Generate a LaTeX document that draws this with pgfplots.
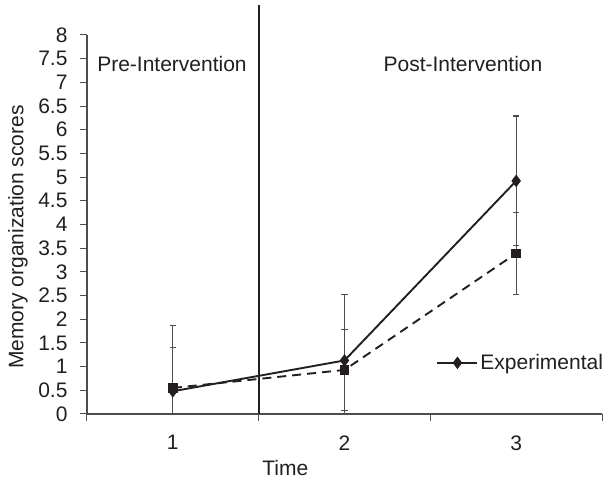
\documentclass[border=0pt]{standalone}
\usepackage{pgfplots}
\pgfplotsset{compat=1.18}
\usepackage{fontspec}
\setmainfont{Liberation Sans}
\definecolor{ln}{HTML}{231F20}
\definecolor{eb}{HTML}{4D4D4D}
\begin{document}
\begin{tikzpicture}
\begin{axis}[
  scale only axis, width=515pt, height=379pt,
  xmin=0.5, xmax=3.5, ymin=0, ymax=8,
  axis lines=left, axis line style={-, draw=eb, line width=1.2pt},
  clip=false,
  xtick={1,2,3}, minor xtick={0.5,1.5,2.5,3.5},
  major x tick style={draw=none},
  minor x tick style={draw=eb, line width=1pt},
  ytick={0,0.5,1,1.5,2,2.5,3,3.5,4,4.5,5,5.5,6,6.5,7,7.5,8},
  y tick style={draw=eb, line width=1pt},
  tick align=outside, major tick length=7pt, minor tick length=7pt,
  font=\fontsize{21}{25}\selectfont,
  /pgf/number format/assume math mode=true,
  /pgf/number format/.cd, fixed, precision=1, /pgfplots/.cd,
  yticklabel style={anchor=east, xshift=-9pt, text=ln},
  xticklabel style={text=ln, yshift=-11pt},
  xlabel={Time}, ylabel={Memory organization scores},
  xlabel style={at={(axis description cs:0.385,-0.143)}, anchor=center, text=ln},
  ylabel style={at={(axis description cs:-0.134,0.467)}, anchor=center, text=ln},
  legend style={at={(axis cs:2.535,1.08)}, anchor=west, draw=none, fill=none, inner sep=0pt,
    font=\fontsize{21}{25}\selectfont, text=ln},
  legend image code/.code={\draw[mark repeat=2,mark phase=2,#1] plot coordinates {(0pt,0pt) (20pt,0pt) (40pt,0pt)};},
  error bars/error bar style={draw=eb, line width=1.1pt, solid},
  error bars/error mark options={draw=eb, line width=1.1pt, rotate=90, mark size=3.2pt, solid},
]
% vertical divider
\draw[ln, line width=1.8pt] (axis cs:1.5,0) -- (axis cs:1.5,8.63);
\node[text=ln] at (axis cs:0.995,7.38) {Pre-Intervention};
\node[text=ln] at (axis cs:2.69,7.38) {Post-Intervention};

% Experimental (diamond, solid)
\addplot[ln, line width=1.9pt, mark=diamond*, mark size=5.5pt, mark options={solid, fill=ln, line width=1pt},
  error bars/.cd, y dir=both, y explicit]
  table[x=x, y=y, y error plus=ep, y error minus=em] {
x y ep em
1 0.48 1.38 0.48
2 1.13 1.39 1.13
3 4.92 1.37 1.37
};
\addlegendentry{Experimental}

% Control (square, dashed)
\addplot[ln, line width=1.9pt, dash pattern=on 9pt off 6pt, mark=square*, mark size=4.3pt, mark options={solid, fill=ln, line width=1pt},
  error bars/.cd, y dir=both, y explicit]
  table[x=x, y=y, y error plus=ep, y error minus=em] {
x y ep em
1 0.55 0.86 0.55
2 0.93 0.86 0.86
3 3.39 0.87 0.87
};
\end{axis}
\pgfresetboundingbox
\path ([xshift=-87pt,yshift=-66pt]current axis.south west) rectangle ([xshift=3pt,yshift=35pt]current axis.north east);
\end{tikzpicture}
\end{document}
